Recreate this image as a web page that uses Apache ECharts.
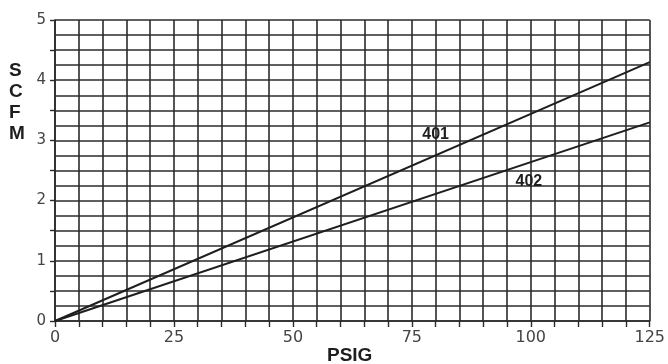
<!DOCTYPE html>
<html>
<head>
<meta charset="utf-8">
<script src="https://cdn.jsdelivr.net/npm/echarts@6/dist/echarts.min.js"></script>
<style>html,body{margin:0;padding:0;background:#fff;}#c{width:668px;height:364px;}</style>
</head>
<body>
<div id="c"></div>
<script>
// Data
const xTickLabels = [0, 25, 50, 75, 100, 125];
const yTickLabels = [0, 1, 2, 3, 4, 5];
const series401 = [[0, 0], [125, 4.3]];
const series402 = [[0, 0], [125, 3.3]];
const label401 = [80, 3.09];
const label402 = [99.6, 2.31];

const gridColor = '#2b2b2b';
const chart = echarts.init(document.getElementById('c'), null, {renderer: 'canvas'});
chart.setOption({
  backgroundColor: '#ffffff',
  animation: false,
  grid: {left: 55, right: 13, top: 20, bottom: 43},
  xAxis: {
    type: 'value', min: 0, max: 125, interval: 5,
    axisLine: {show: true, lineStyle: {color: gridColor, width: 1.6}},
    axisTick: {show: true, length: 6, lineStyle: {color: gridColor, width: 1.4}},
    axisLabel: {
      margin: 9, color: '#444', fontFamily: 'DejaVu Sans', fontSize: 16,
      formatter: v => xTickLabels.includes(v) ? String(v) : ''
    },
    splitLine: {show: true, lineStyle: {color: gridColor, width: 1.6}}
  },
  yAxis: {
    type: 'value', min: 0, max: 5, interval: 0.5,
    axisLine: {show: true, lineStyle: {color: gridColor, width: 1.6}},
    axisTick: {show: true, length: 5, lineStyle: {color: gridColor, width: 1.4}},
    axisLabel: {
      margin: 9, color: '#444', fontFamily: 'DejaVu Sans', fontSize: 15,
      formatter: v => yTickLabels.includes(v) ? String(v) : ''
    },
    splitLine: {show: true, lineStyle: {color: gridColor, width: 1.6}},
    minorTick: {show: false, splitNumber: 2},
    minorSplitLine: {show: true, lineStyle: {color: gridColor, width: 1.6}}
  },
  series: [
    {
      name: '401', type: 'line', data: series401, showSymbol: false,
      lineStyle: {color: '#1e1e1e', width: 2},
      markPoint: {
        symbol: 'circle', symbolSize: 0,
        label: {show: true, position: 'inside', formatter: '401', fontFamily: 'Liberation Sans', fontWeight: 'bold', fontSize: 16, color: '#1e1e1e'},
        data: [{coord: label401}]
      }
    },
    {
      name: '402', type: 'line', data: series402, showSymbol: false,
      lineStyle: {color: '#1e1e1e', width: 2},
      markPoint: {
        symbol: 'circle', symbolSize: 0,
        label: {show: true, position: 'inside', formatter: '402', fontFamily: 'Liberation Sans', fontWeight: 'bold', fontSize: 16, color: '#1e1e1e'},
        data: [{coord: label402}]
      }
    }
  ],
  graphic: [
    {type: 'text', left: 9, top: 60, style: {text: 'S\nC\nF\nM', font: 'bold 19px "Liberation Sans"', lineHeight: 21, fill: '#1e1e1e', align: 'center'}},
    {type: 'text', left: 327, top: 346, style: {text: 'PSIG', font: 'bold 19px "Liberation Sans"', fill: '#1e1e1e'}}
  ]
});
</script>
</body>
</html>
